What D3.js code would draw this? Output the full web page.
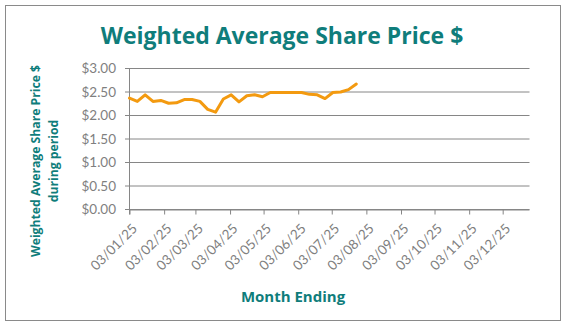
<!DOCTYPE html>
<html><head><meta charset="utf-8">
<script src="https://cdn.jsdelivr.net/npm/d3@7"></script>
<style>body{margin:0;background:#fff}svg{display:block}</style>
</head><body>
<svg id="c" width="564" height="324"></svg>
<script>
const startDate = "2025-01-03";
const prices = [2.37,2.30,2.44,2.30,2.32,2.26,2.27,2.34,2.34,2.30,2.13,2.07,2.35,2.44,2.29,2.42,2.44,2.40,2.49,2.49,2.49,2.49,2.49,2.45,2.44,2.36,2.49,2.50,2.55,2.67];
const tickDates = ["2025-01-03","2025-02-03","2025-03-03","2025-04-03","2025-05-03","2025-06-03","2025-07-03","2025-08-03","2025-09-03","2025-10-03","2025-11-03","2025-12-03"];
const yTicks = [0,0.5,1,1.5,2,2.5,3];
const title = "Weighted Average Share Price $";
const yTitle = ["Weighted Average Share Price $","during period"];
const xTitle = "Month Ending";

const parse = d3.utcParse("%Y-%m-%d");
const t0 = parse(startDate);
const data = prices.map((v,i)=>({date:d3.utcDay.offset(t0, i*7), v}));

const svg = d3.select("#c");
const teal = "#0F7D7B", grid = "#868686", lab = "#7F7F7F";
svg.append("rect").attr("x",5.5).attr("y",5.5).attr("width",555).attr("height",315)
  .attr("fill","#fff").attr("stroke","#8a8a8a").attr("stroke-width",1);

const x = d3.scaleUtc().domain([t0, d3.utcDay.offset(t0,358)]).range([129.5,529.5]);
const y = d3.scaleLinear().domain([0,3]).range([209.5,68.5]);

// gridlines
svg.append("g").selectAll("line").data(yTicks).join("line")
  .attr("x1",125).attr("x2",529.5).attr("y1",d=>y(d)).attr("y2",d=>y(d))
  .attr("stroke",grid).attr("stroke-width",1);
// y axis line
svg.append("line").attr("x1",129.5).attr("x2",129.5).attr("y1",y(3)).attr("y2",y(0)+5)
  .attr("stroke",grid);
// y labels
svg.append("g").selectAll("text").data(yTicks).join("text")
  .attr("x",116).attr("y",d=>y(d)).attr("dy","0.35em").attr("text-anchor","end")
  .attr("font-family","Lato, sans-serif").attr("font-size",13.5).attr("fill",lab)
  .text(d=>"$"+d.toFixed(2));

// x axis
const tds = tickDates.map(parse);
const xAxis = d3.axisBottom(x).tickValues(tds).tickSize(5).tickFormat(d3.utcFormat("%d/%m/%y"));
const gx = svg.append("g").attr("transform",`translate(0,${y(0)})`).call(xAxis);
gx.select(".domain").attr("stroke",grid).attr("d","M129.5,0.5H529.5");
gx.selectAll(".tick line").attr("stroke",grid);
gx.selectAll(".tick text")
  .attr("font-family","Lato, sans-serif").attr("font-size",13.5).attr("fill",lab)
  .attr("text-anchor","end").attr("dy",0).attr("y",0)
  .attr("transform","translate(8,20) rotate(-45)");

// line
svg.append("path").datum(data)
  .attr("fill","none").attr("stroke","#F39A10").attr("stroke-width",3)
  .attr("stroke-linejoin","round").attr("stroke-linecap","round")
  .attr("d", d3.line().x(d=>x(d.date)).y(d=>y(d.v)));

// titles
svg.append("text").attr("x",282).attr("y",44).attr("text-anchor","middle")
  .attr("font-family","'Open Sans', sans-serif").attr("font-weight","bold").attr("font-size",23)
  .attr("fill",teal).text(title);
const yt = svg.append("text").attr("transform","translate(40,161) rotate(-90)")
  .attr("text-anchor","middle").attr("font-family","'Open Sans', sans-serif")
  .attr("font-weight","bold").attr("font-size",12.2).attr("fill",teal);
yt.selectAll("tspan").data(yTitle).join("tspan").attr("x",0).attr("y",(d,i)=>i*18).text(d=>d);
svg.append("text").attr("x",293).attr("y",302).attr("text-anchor","middle")
  .attr("font-family","'Open Sans', sans-serif").attr("font-weight","bold").attr("font-size",15)
  .attr("fill",teal).text(xTitle);
</script>
</body></html>
